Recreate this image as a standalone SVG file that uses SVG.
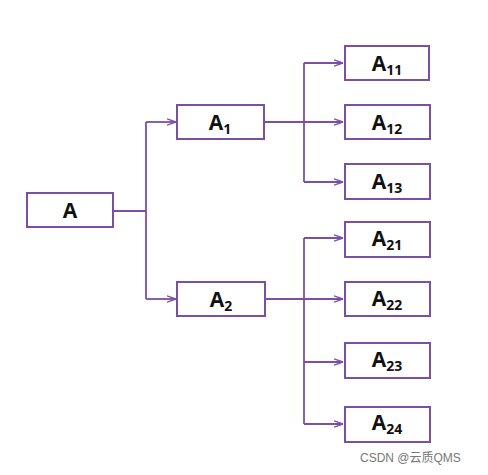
<svg xmlns="http://www.w3.org/2000/svg" width="488" height="475" viewBox="0 0 488 475">
<style>
.box{fill:#fff;stroke:#7a4fa6;stroke-width:2}
.ln{fill:none;stroke:#7a4fa6;stroke-width:1.8}
.t{font-family:"Open Sans","Noto Sans","DejaVu Sans",sans-serif;font-weight:bold;font-size:21px;fill:#111;text-anchor:middle}
.s{font-size:14px}
.wm{font-family:"Liberation Sans","Noto Sans CJK SC",sans-serif;font-size:12px;fill:#777}
</style>
<defs>
<marker id="ar" viewBox="0 0 10 10" refX="10" refY="5" markerWidth="9" markerHeight="9" markerUnits="userSpaceOnUse" orient="auto">
<path d="M0,1.5 L10,5 L0,8.5" fill="none" stroke="#7a4fa6" stroke-width="1.6"/>
</marker>
</defs>
<rect width="488" height="475" fill="#fff"/>
<g id="connectors">
<path class="ln" d="M113,211 H146"/>
<path class="ln" d="M146,122 V299"/>
<path class="ln" d="M146,122 H176" marker-end="url(#ar)"/>
<path class="ln" d="M146,299 H176" marker-end="url(#ar)"/>
<path class="ln" d="M264,122 H304"/>
<path class="ln" d="M304,63 V182"/>
<path class="ln" d="M304,63 H343" marker-end="url(#ar)"/>
<path class="ln" d="M304,122 H343" marker-end="url(#ar)"/>
<path class="ln" d="M304,182 H343" marker-end="url(#ar)"/>
<path class="ln" d="M265,299 H304"/>
<path class="ln" d="M304,238 V424"/>
<path class="ln" d="M304,238 H343" marker-end="url(#ar)"/>
<path class="ln" d="M304,299 H343" marker-end="url(#ar)"/>
<path class="ln" d="M304,362 H343" marker-end="url(#ar)"/>
<path class="ln" d="M304,424 H343" marker-end="url(#ar)"/>
</g>
<g id="A"><rect class="box" x="27" y="193" width="86" height="34"/><text class="t" x="70" y="218">A</text></g>
<g id="A1"><rect class="box" x="177" y="105" width="87" height="34"/><text class="t" x="220" y="130">A<tspan class="s" dy="4">1</tspan></text></g>
<g id="A2"><rect class="box" x="177" y="282" width="88" height="34"/><text class="t" x="221" y="307">A<tspan class="s" dy="4">2</tspan></text></g>
<g id="A11"><rect class="box" x="345" y="46" width="84" height="34"/><text class="t" x="387" y="71">A<tspan class="s" dy="4">11</tspan></text></g>
<g id="A12"><rect class="box" x="345" y="105" width="85" height="34"/><text class="t" x="387" y="130">A<tspan class="s" dy="4">12</tspan></text></g>
<g id="A13"><rect class="box" x="345" y="164" width="85" height="35"/><text class="t" x="387" y="189">A<tspan class="s" dy="4">13</tspan></text></g>
<g id="A21"><rect class="box" x="345" y="222" width="85" height="35"/><text class="t" x="387" y="246">A<tspan class="s" dy="4">21</tspan></text></g>
<g id="A22"><rect class="box" x="345" y="282" width="85" height="34"/><text class="t" x="387" y="306">A<tspan class="s" dy="4">22</tspan></text></g>
<g id="A23"><rect class="box" x="345" y="343" width="85" height="35"/><text class="t" x="387" y="367">A<tspan class="s" dy="4">23</tspan></text></g>
<g id="A24"><rect class="box" x="345" y="407" width="85" height="35"/><text class="t" x="387" y="430">A<tspan class="s" dy="4">24</tspan></text></g>
<text class="wm" x="360" y="462">CSDN @云质QMS</text>
</svg>
